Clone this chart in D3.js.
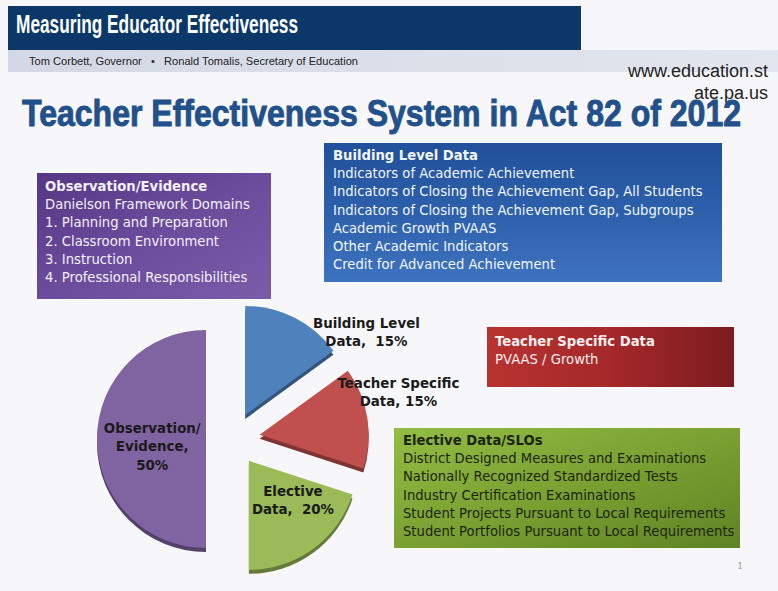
<!DOCTYPE html>
<html>
<head>
<meta charset="utf-8">
<script src="https://cdn.jsdelivr.net/npm/d3@7"></script>
<style>
  html, body { margin: 0; padding: 0; background: #f7f7fa; }
  svg { display: block; }
</style>
</head>
<body>
<div id="chart"></div>
<script>
'use strict';

let width = 778;
let height = 591;

// pie data
const categories = ["Building Level Data", "Teacher Specific Data", "Elective Data", "Observation/ Evidence"];
const shares = [15, 15, 20, 50];
const sliceLabels = [
    ["Building Level", "Data,  15%"],
    ["Teacher Specific", "Data, 15%"],
    ["Elective", "Data,  20%"],
    ["Observation/", "Evidence,", "50%"]
];
const sliceColors = ["#4f81bd", "#c0504d", "#9bbb59", "#8064a2"];

// slide text
const headerTitle = "Measuring Educator Effectiveness";
const subHeader = "Tom Corbett, Governor   •   Ronald Tomalis, Secretary of Education";
const urlLines = ["www.education.st", "ate.pa.us"];
const slideTitle = "Teacher Effectiveness System in Act 82 of 2012";

const obsLines = ["Observation/Evidence", "Danielson Framework Domains", "1. Planning and Preparation",
    "2. Classroom Environment", "3. Instruction", "4. Professional Responsibilities"];
const buildingLines = ["Building Level Data", "Indicators of Academic Achievement",
    "Indicators of Closing the Achievement Gap, All Students",
    "Indicators of Closing the Achievement Gap, Subgroups",
    "Academic Growth PVAAS", "Other Academic Indicators", "Credit for Advanced Achievement"];
const teacherLines = ["Teacher Specific Data", "PVAAS / Growth"];
const electiveLines = ["Elective Data/SLOs", "District Designed Measures and Examinations",
    "Nationally Recognized Standardized Tests", "Industry Certification Examinations",
    "Student Projects Pursuant to Local Requirements",
    "Student Portfolios Pursuant to Local Requirements"];

const svg = d3.select("#chart").append("svg")
    .attr("width", width)
    .attr("height", height);

const defs = svg.append("defs");

function grad(id, stops, x2, y2) {
    const g = defs.append("linearGradient").attr("id", id)
        .attr("x1", 0).attr("y1", 0).attr("x2", x2).attr("y2", y2);
    stops.forEach((c, i) => g.append("stop")
        .attr("offset", i / (stops.length - 1)).attr("stop-color", c));
}
grad("gPurple", ["#553786", "#6b4c9c", "#7a5ca9"], 1, 1);
grad("gBlue", ["#22509a", "#2d60ab", "#3e73bf"], 0, 1);
grad("gRed", ["#b73330", "#a5282a", "#7c1c1e"], 1, 0);
grad("gGreen", ["#93bd44", "#7aa132", "#5e8324"], 1, 1);
grad("gBand", ["#d3d9e4", "#e2e6ee"], 1, 0);

// header
svg.append("rect").attr("x", 8).attr("y", 50).attr("width", 770).attr("height", 22)
    .attr("fill", "url(#gBand)");
svg.append("rect").attr("x", 8).attr("y", 6).attr("width", 573).attr("height", 44)
    .attr("fill", "#0b3769");
svg.append("text").attr("x", 16).attr("y", 33)
    .attr("font-family", "Liberation Sans, Arial, sans-serif").attr("font-weight", "bold")
    .attr("font-size", 25).attr("fill", "#fff")
    .attr("textLength", 282).attr("lengthAdjust", "spacingAndGlyphs")
    .text(headerTitle);
svg.append("text").attr("x", 29).attr("y", 65)
    .attr("font-family", "Liberation Sans, Arial, sans-serif")
    .attr("font-size", 10.5).attr("fill", "#222")
    .attr("textLength", 329).attr("lengthAdjust", "spacingAndGlyphs")
    .attr("xml:space", "preserve")
    .text(subHeader);
svg.selectAll(".url").data(urlLines).join("text")
    .attr("class", "url")
    .attr("x", 768).attr("y", (d, i) => 77 + i * 22)
    .attr("text-anchor", "end")
    .attr("font-family", "Liberation Sans, Arial, sans-serif")
    .attr("font-size", 18).attr("fill", "#222")
    .text(d => d);

svg.append("text").attr("x", 22).attr("y", 126)
    .attr("font-family", "Liberation Sans, Arial, sans-serif").attr("font-weight", "bold")
    .attr("font-size", 36).attr("fill", "#22508b")
    .attr("stroke", "#22508b").attr("stroke-width", 0.9)
    .attr("textLength", 719).attr("lengthAdjust", "spacingAndGlyphs")
    .text(slideTitle);

// text boxes
const bodyFont = "DejaVu Sans, Verdana, sans-serif";

function textBox(x, y, w, h, fill, lines, color, tx, ty) {
    const g = svg.append("g");
    g.append("rect").attr("x", x).attr("y", y).attr("width", w).attr("height", h)
        .attr("fill", fill);
    g.selectAll("text").data(lines).join("text")
        .attr("x", tx).attr("y", (d, i) => ty + i * 18.2)
        .attr("font-family", bodyFont)
        .attr("font-size", 13.2)
        .attr("font-weight", (d, i) => i === 0 ? "bold" : "normal")
        .attr("fill", color)
        .text(d => d);
}
textBox(37, 173, 234, 126, "url(#gPurple)", obsLines, "#f4f0fa", 45, 191);
textBox(324, 143, 398, 139, "url(#gBlue)", buildingLines, "#f2f6fc", 333, 160);
textBox(487, 327, 247, 60, "url(#gRed)", teacherLines, "#faeeee", 495, 346);
textBox(394, 428, 346, 120, "url(#gGreen)", electiveLines, "#1c2410", 403, 445);

// page number
svg.append("text").attr("x", 737).attr("y", 569)
    .attr("font-family", "DejaVu Serif, serif").attr("font-size", 10)
    .attr("fill", "#999").text("1");

// exploded pie
const cx = 233, cy = 439, radius = 109, explode = 27, depth = 4;

const pie = d3.pie().sort(null).value(d => d)
    .startAngle(0).endAngle(2 * Math.PI);
const arcs = pie(shares);
const arc = d3.arc().innerRadius(0).outerRadius(radius);

// label nudges from the arc centroid (layout only)
const labelArc = d3.arc().innerRadius(radius * 0.75).outerRadius(radius * 0.75);
const labelNudge = [[84, -10], [58, -30], [-4, -27], [28, 7]];

const pieG = svg.append("g").attr("transform", `translate(${cx},${cy})`);

const slice = pieG.selectAll(".slice").data(arcs).join("g")
    .attr("class", "slice")
    .attr("transform", d => {
        const a = (d.startAngle + d.endAngle) / 2;
        return `translate(${Math.sin(a) * explode},${-Math.cos(a) * explode})`;
    });

slice.append("path")
    .attr("d", arc)
    .attr("transform", `translate(0,${depth})`)
    .attr("fill", (d, i) => d3.color(sliceColors[i]).darker(1.2));
slice.append("path")
    .attr("d", arc)
    .attr("fill", (d, i) => sliceColors[i]);

slice.each(function (d, i) {
    const c = labelArc.centroid(d);
    const n = sliceLabels[i].length;
    d3.select(this).append("g")
        .attr("transform", `translate(${c[0] + labelNudge[i][0]},${c[1] + labelNudge[i][1]})`)
        .selectAll("text").data(sliceLabels[i]).join("text")
        .attr("x", 0)
        .attr("y", (t, k) => (k - (n - 1) / 2) * 18.5 + 5)
        .attr("text-anchor", "middle")
        .attr("font-family", bodyFont)
        .attr("font-weight", "bold")
        .attr("font-size", 13.4)
        .attr("fill", "#1a1a1a")
        .attr("xml:space", "preserve")
        .text(t => t);
});
</script>
</body>
</html>
